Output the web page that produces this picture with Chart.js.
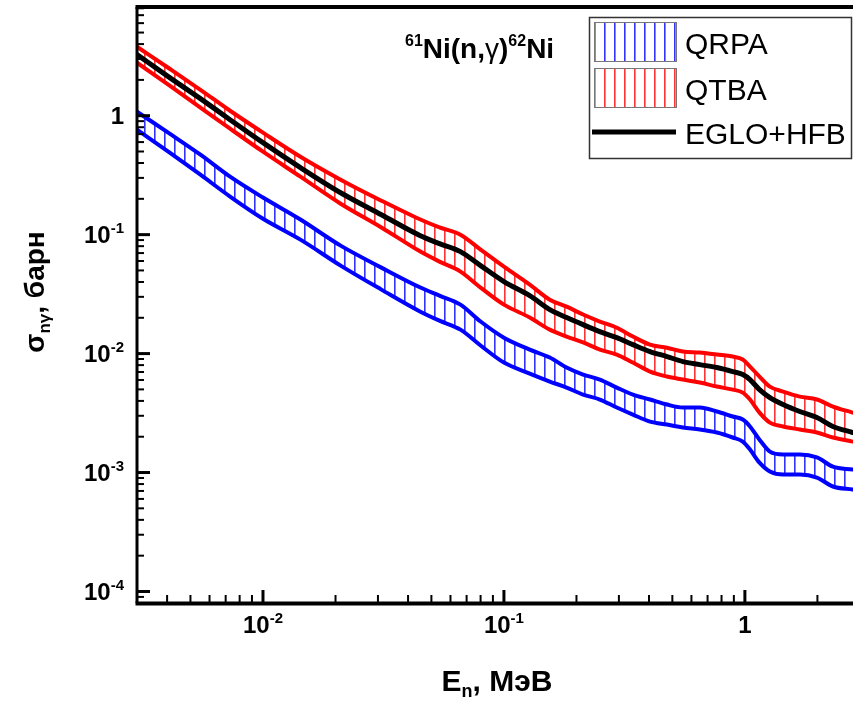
<!DOCTYPE html>
<html>
<head>
<meta charset="utf-8">
<script src="https://cdn.jsdelivr.net/npm/chart.js@4.4.0/dist/chart.umd.min.js"></script>
<style>
html, body { margin: 0; padding: 0; background: #fff; }
</style>
</head>
<body>
<canvas id="chart" width="853" height="704"></canvas>
<script>
// neutron energy, MeV
var energy = [0.003, 0.0041, 0.0055, 0.0073, 0.01, 0.0143, 0.021, 0.031, 0.045, 0.054, 0.066, 0.08, 0.1, 0.128, 0.155,
    0.182, 0.213, 0.25, 0.294, 0.343, 0.404, 0.475, 0.553, 0.65, 0.765, 0.89, 0.98, 1.05, 1.15, 1.27, 1.44, 1.69, 1.99, 2.32, 2.8];

// capture cross section, barn
var egloHfb = [3.26, 2.09, 1.39, 0.926, 0.593, 0.366, 0.225, 0.147, 0.098, 0.084, 0.072, 0.0549, 0.0403, 0.0307, 0.0234,
    0.0201, 0.0175, 0.0153, 0.0136, 0.0119, 0.0104, 0.00944, 0.00857, 0.00808, 0.00763, 0.00706, 0.00666, 0.00605, 0.00498, 0.00427, 0.00373, 0.00326, 0.0029, 0.00244, 0.00217];
var qtbaHigh = [3.8, 2.48, 1.65, 1.1, 0.72, 0.452, 0.29, 0.193, 0.134, 0.115, 0.1, 0.0748, 0.0538, 0.038, 0.0284,
    0.0248, 0.0213, 0.0186, 0.0165, 0.0139, 0.0119, 0.0112, 0.0104, 0.0102, 0.00981, 0.00944, 0.00891, 0.00778, 0.00641, 0.00528, 0.00479, 0.00435, 0.00411, 0.00359, 0.00319];
var qtbaLow = [2.79, 1.79, 1.17, 0.778, 0.498, 0.307, 0.182, 0.115, 0.072, 0.0593, 0.0489, 0.0359, 0.0258, 0.0201, 0.0159,
    0.0139, 0.0124, 0.0108, 0.00981, 0.0084, 0.00706, 0.00641, 0.00605, 0.00571, 0.00528, 0.00498, 0.0047, 0.00411, 0.00319, 0.00263, 0.00244, 0.0023, 0.00217, 0.00197, 0.00182];
var qrpaHigh = [1.08, 0.706, 0.47, 0.307, 0.205, 0.134, 0.0808, 0.0528, 0.0359, 0.0307, 0.0258, 0.0186, 0.0136, 0.0108, 0.00926,
    0.00763, 0.00666, 0.00605, 0.00518, 0.00452, 0.00411, 0.00373, 0.00352, 0.00352, 0.00326, 0.00296, 0.00279, 0.00244, 0.00189, 0.0015, 0.00142, 0.00142, 0.00134, 0.00112, 0.00106];
var qrpaLow = [0.763, 0.489, 0.319, 0.209, 0.136, 0.0908, 0.0549, 0.0345, 0.0225, 0.0189, 0.0159, 0.0117, 0.0084, 0.00679, 0.00582,
    0.00518, 0.00452, 0.00411, 0.00352, 0.00307, 0.00268, 0.00253, 0.00239, 0.0023, 0.00217, 0.00197, 0.00182, 0.00156, 0.00121, 0.00102, 0.000962, 0.000962, 0.000908, 0.000763, 0.000719];

var xTicks = [0.01, 0.1, 1];
var xTickLabels = [['10', '-2'], ['10', '-1'], ['1', '']];
var yTicks = [0.0001, 0.001, 0.01, 0.1, 1];
var yTickLabels = [['10', '-4'], ['10', '-3'], ['10', '-2'], ['10', '-1'], ['1', '']];
var minorSteps = [2, 3, 4, 5, 6, 7, 8, 9];
var legendNames = ['QRPA', 'QTBA', 'EGLO+HFB'];

var FONT = '"Liberation Sans", Arial, sans-serif';

function points(vals) {
    return energy.map(function(e, i) { return { x: e, y: vals[i] }; });
}

// vertical hatching for the bands
function hatch(color) {
    var c = document.createElement('canvas');
    c.width = 10; c.height = 10;
    var g = c.getContext('2d');
    g.fillStyle = color;
    g.fillRect(4, 0, 1.6, 10);
    return g.createPattern(c, 'repeat');
}
var blueHatch = hatch('rgba(0,0,255,0.8)');
var redHatch = hatch('rgba(255,0,0,0.8)');

// draws "10" with raised exponent; align: 'center' or 'right'
function powText(ctx, base, exp, x, y, align) {
    ctx.font = 'bold 24px ' + FONT;
    var w1 = ctx.measureText(base).width;
    ctx.font = 'bold 15px ' + FONT;
    var w2 = exp ? ctx.measureText(exp).width : 0;
    var w = w1 + w2;
    var x0 = align === 'right' ? x - w : x - w / 2;
    ctx.textAlign = 'left';
    ctx.textBaseline = 'alphabetic';
    ctx.font = 'bold 24px ' + FONT;
    ctx.fillText(base, x0, y);
    if (exp) {
        ctx.font = 'bold 15px ' + FONT;
        ctx.fillText(exp, x0 + w1, y - 10);
    }
}

// text pieces: [text, font, dy]
function pieces(ctx, parts, x, y) {
    var cx = x;
    parts.forEach(function(p) {
        ctx.font = p[1];
        ctx.fillText(p[0], cx, y + p[2]);
        cx += ctx.measureText(p[0]).width;
    });
    return cx - x;
}
function piecesWidth(ctx, parts) {
    var w = 0;
    parts.forEach(function(p) { ctx.font = p[1]; w += ctx.measureText(p[0]).width; });
    return w;
}

var frame = {
    id: 'frame',
    afterDraw: function(chart) {
        var ctx = chart.ctx, a = chart.chartArea;
        var xs = chart.scales.x, ys = chart.scales.y;
        ctx.save();
        ctx.strokeStyle = '#000';
        ctx.fillStyle = '#000';
        ctx.lineCap = 'butt';

        // axis lines
        ctx.lineWidth = 4;
        ctx.beginPath(); ctx.moveTo(a.left - 1.5, a.top); ctx.lineTo(a.right, a.top); ctx.stroke();
        ctx.beginPath(); ctx.moveTo(a.left - 1.5, a.bottom + 0.5); ctx.lineTo(a.right, a.bottom + 0.5); ctx.stroke();
        ctx.lineWidth = 3;
        ctx.beginPath(); ctx.moveTo(a.left, a.top); ctx.lineTo(a.left, a.bottom); ctx.stroke();

        // y ticks
        yTicks.forEach(function(v) {
            var y = ys.getPixelForValue(v);
            ctx.lineWidth = 3;
            ctx.beginPath(); ctx.moveTo(a.left, y); ctx.lineTo(a.left + 13, y); ctx.stroke();
        });
        [0.00001, 0.0001, 0.001, 0.01, 0.1, 1].forEach(function(d) {
            minorSteps.forEach(function(m) {
                var v = d * m;
                if (v < ys.min || v > ys.max) return;
                var y = ys.getPixelForValue(v);
                ctx.lineWidth = 2;
                ctx.beginPath(); ctx.moveTo(a.left, y); ctx.lineTo(a.left + 7, y); ctx.stroke();
            });
        });
        // x ticks
        xTicks.forEach(function(v) {
            var x = xs.getPixelForValue(v);
            ctx.lineWidth = 3;
            ctx.beginPath(); ctx.moveTo(x, a.bottom); ctx.lineTo(x, a.bottom - 13); ctx.stroke();
        });
        [0.001, 0.01, 0.1, 1].forEach(function(d) {
            minorSteps.forEach(function(m) {
                var v = d * m;
                if (v < xs.min || v > xs.max) return;
                var x = xs.getPixelForValue(v);
                ctx.lineWidth = 2;
                ctx.beginPath(); ctx.moveTo(x, a.bottom); ctx.lineTo(x, a.bottom - 8); ctx.stroke();
            });
        });

        // tick labels
        yTicks.forEach(function(v, i) {
            powText(ctx, yTickLabels[i][0], yTickLabels[i][1], 124, ys.getPixelForValue(v) + 8.5, 'right');
        });
        xTicks.forEach(function(v, i) {
            powText(ctx, xTickLabels[i][0], xTickLabels[i][1], xs.getPixelForValue(v), 633, 'center');
        });

        // axis titles
        var big = 'bold 30px ' + FONT, sub = 'bold 18px ' + FONT;
        var xt = [['E', big, 0], ['n', sub, 6], [', МэВ', big, 0]];
        pieces(ctx, xt, 497 - piecesWidth(ctx, xt) / 2, 691);

        var yb = 'bold 28px ' + FONT, ys2 = 'bold 17px ' + FONT;
        var yt = [['σ', yb, 0], ['nγ', ys2, 6], [', барн', yb, 0]];
        ctx.save();
        ctx.translate(44, 292);
        ctx.rotate(-Math.PI / 2);
        pieces(ctx, yt, -piecesWidth(ctx, yt) / 2, 0);
        ctx.restore();

        // reaction label
        var tb = 'bold 28px ' + FONT, ts = 'bold 16px ' + FONT, tg = '28px ' + FONT;
        pieces(ctx, [['61', ts, -12], ['Ni(n,', tb, 0], ['γ', tg, 0], [')', tb, 0], ['62', ts, -12], ['Ni', tb, 0]], 405, 58);

        // legend
        ctx.lineWidth = 1.5;
        ctx.strokeStyle = '#333';
        ctx.strokeRect(589.5, 17.5, 262, 141);
        var fills = [blueHatch, redHatch];
        [22, 68].forEach(function(top, i) {
            ctx.fillStyle = fills[i];
            ctx.fillRect(594, top, 82, 39);
            ctx.lineWidth = 1;
            ctx.strokeStyle = '#777';
            ctx.strokeRect(594.5, top + 0.5, 82, 39);
        });
        ctx.strokeStyle = '#000';
        ctx.lineWidth = 5;
        ctx.beginPath(); ctx.moveTo(592, 132); ctx.lineTo(676, 132); ctx.stroke();
        ctx.fillStyle = '#000';
        ctx.font = '30px ' + FONT;
        ctx.textAlign = 'left';
        [54, 100, 144].forEach(function(y, i) { ctx.fillText(legendNames[i], 685, y); });
        ctx.restore();
    }
};

new Chart(document.getElementById('chart'), {
    type: 'line',
    data: {
        datasets: [
            { label: legendNames[2], data: points(egloHfb), borderColor: '#000', borderWidth: 5, fill: false },
            { label: 'QTBA low', data: points(qtbaLow), borderColor: '#ff0000', borderWidth: 4, fill: false },
            { label: legendNames[1], data: points(qtbaHigh), borderColor: '#ff0000', borderWidth: 4, fill: '-1', backgroundColor: redHatch },
            { label: 'QRPA low', data: points(qrpaLow), borderColor: '#0000ff', borderWidth: 4, fill: false },
            { label: legendNames[0], data: points(qrpaHigh), borderColor: '#0000ff', borderWidth: 4, fill: '-1', backgroundColor: blueHatch }
        ]
    },
    options: {
        responsive: false,
        animation: false,
        devicePixelRatio: 1,
        layout: { padding: { left: 137, top: 7, right: 0, bottom: 101 } },
        elements: {
            point: { radius: 0 },
            line: { cubicInterpolationMode: 'monotone', borderJoinStyle: 'round', borderCapStyle: 'round' }
        },
        plugins: { legend: { display: false }, tooltip: { enabled: false } },
        scales: {
            x: { type: 'logarithmic', min: 0.003, max: 2.81, display: false },
            y: { type: 'logarithmic', min: 0.00008, max: 8.2, display: false }
        }
    },
    plugins: [frame]
});
</script>
</body>
</html>
